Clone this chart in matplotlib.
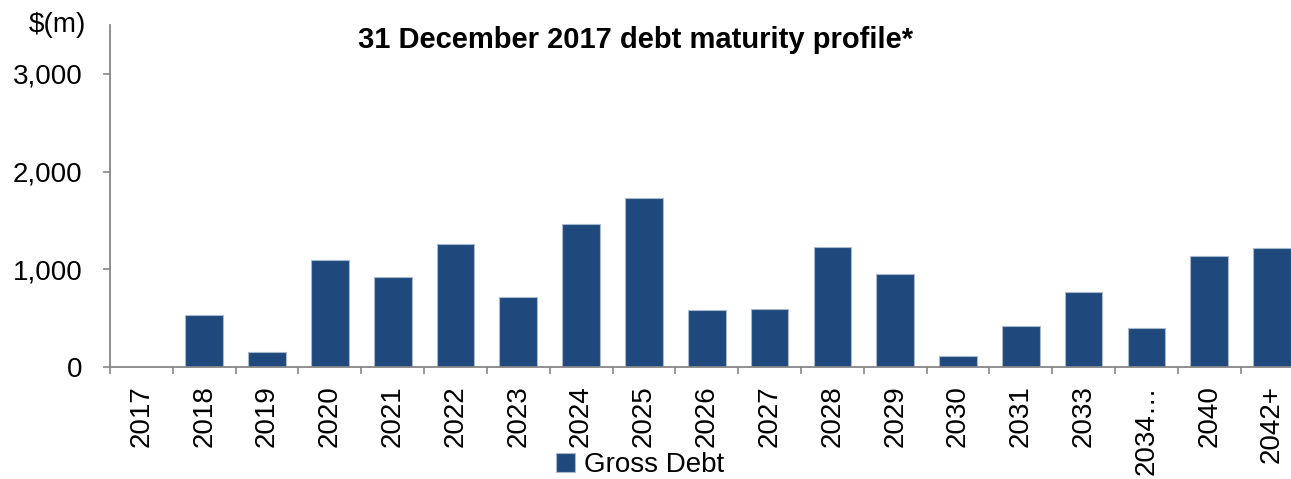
import matplotlib.pyplot as plt
import numpy as np

plt.rcParams['font.family'] = ['Liberation Sans', 'DejaVu Sans']

# Gross debt maturing per year, $m
years = ["2017", "2018", "2019", "2020", "2021", "2022", "2023", "2024", "2025",
         "2026", "2027", "2028", "2029", "2030", "2031", "2033", "2034…",
         "2040", "2042+"]
gross_debt = [0, 529, 153, 1092, 921, 1256, 720, 1461, 1727,
              580, 590, 1225, 955, 109, 416, 764, 402,
              1139, 1215]

bar_color = "#1f497d"
axis_color = "#868686"

fig = plt.figure(figsize=(12.91, 4.79), dpi=100)
ax = fig.add_axes([110 / 1291, 112 / 479, 1193.5 / 1291, 342 / 479])

x = np.arange(len(years))
ax.bar(x, gross_debt, width=0.6, color=bar_color, edgecolor="#a9b8cc",
       linewidth=0.8, label="Gross Debt", zorder=2)

ax.set_xlim(-0.5, len(years) - 0.5)
ax.set_ylim(0, 3500)
ax.set_yticks([0, 1000, 2000, 3000])
ax.set_yticklabels(["0", "1,000", "2,000", "3,000"])

# labels at category centres, tick marks between categories
ax.set_xticks(x)
ax.set_xticklabels(years, rotation=90, va="top", ha="center")
ax.set_xticks(np.arange(len(years) + 1) - 0.5, minor=True)
ax.tick_params(axis="x", which="major", length=0, pad=13, labelsize=20)
ax.tick_params(axis="x", which="minor", length=5, width=1.2, color=axis_color)
ax.tick_params(axis="y", length=5, width=1.2, color=axis_color, pad=15,
               labelsize=20)

for side in ["top", "right"]:
    ax.spines[side].set_visible(False)
for side in ["left", "bottom"]:
    ax.spines[side].set_color(axis_color)
    ax.spines[side].set_linewidth(1.3)

fig.text(636 / 1291, 1 - 40 / 479, "31 December 2017 debt maturity profile*",
         ha="center", va="center", fontsize=21, fontweight="bold")
fig.text(57 / 1291, 1 - 25 / 479, "$(m)", ha="center", va="center", fontsize=20)

fig.legend(loc="center", bbox_to_anchor=(640 / 1291, 1 - 465 / 479),
           frameon=False, fontsize=20, handlelength=0.7, handleheight=0.7,
           handletextpad=0.3, borderpad=0)

fig.savefig("out.png", dpi=100)
